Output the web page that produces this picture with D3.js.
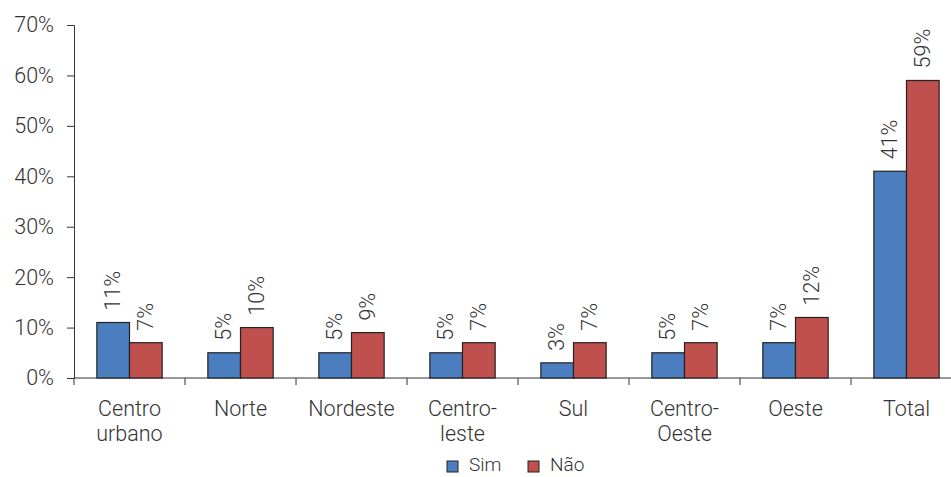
<!DOCTYPE html>
<html>
<head>
<meta charset="utf-8">
<script src="https://cdn.jsdelivr.net/npm/d3@7"></script>
<style>
  html, body { margin: 0; padding: 0; background: #fff; }
  svg { display: block; font-family: Roboto, "Liberation Sans", sans-serif; font-weight: 300; }
</style>
</head>
<body>
<svg id="chart" width="951" height="477"></svg>
<script>
const categories = [["Centro", "urbano"], ["Norte"], ["Nordeste"], ["Centro-", "leste"], ["Sul"], ["Centro-", "Oeste"], ["Oeste"], ["Total"]];
const simValues = [11, 5, 5, 5, 3, 5, 7, 41];
const naoValues = [7, 10, 9, 7, 7, 7, 12, 59];
const yTicks = [0, 10, 20, 30, 40, 50, 60, 70];
const seriesNames = ["Sim", "Não"];
const seriesColors = ["#4a7ebf", "#c0504d"];

const svg = d3.select("#chart");
const W = 951;
const textColor = "#333";
const fontSize = "21.5px";

const x = d3.scaleBand().domain(d3.range(categories.length)).range([74, 962]).paddingInner(0).paddingOuter(0);
const y = d3.scaleLinear().domain([0, 70]).range([378, 25]);
const sub = d3.scaleBand().domain([0, 1]).range([0, x.bandwidth()]).paddingInner(0).paddingOuter(0.7);

// y axis
const yAxis = svg.append("g").attr("transform", "translate(74,0)")
  .call(d3.axisLeft(y).tickValues(yTicks).tickFormat(d => d + "%").tickSize(7).tickPadding(13));
yAxis.select(".domain").attr("stroke", "#333");
yAxis.selectAll(".tick line").attr("stroke", "#333");
yAxis.selectAll(".tick text").attr("fill", textColor).style("font-size", fontSize)
  .style("font-family", "Roboto, 'Liberation Sans', sans-serif").style("font-weight", 300);

// x axis baseline and category separators
svg.append("line").attr("x1", 74).attr("x2", W).attr("y1", 378).attr("y2", 378).attr("stroke", "#333");
svg.selectAll(".sep").data(d3.range(categories.length + 1)).join("line")
  .attr("x1", i => 74 + i * x.bandwidth()).attr("x2", i => 74 + i * x.bandwidth())
  .attr("y1", 378).attr("y2", 385).attr("stroke", "#333");

// bars with rotated value labels
const groups = svg.selectAll(".grp").data(categories.map((c, i) => i)).join("g")
  .attr("transform", i => `translate(${x(i)},0)`);
const seriesData = [simValues, naoValues];
groups.each(function(i) {
  const g = d3.select(this);
  seriesData.forEach((vals, s) => {
    const v = vals[i];
    g.append("rect")
      .attr("x", sub(s)).attr("width", sub.bandwidth())
      .attr("y", y(v)).attr("height", y(0) - y(v))
      .attr("fill", seriesColors[s]).attr("stroke", "#222").attr("stroke-width", 1.2);
    g.append("text")
      .attr("transform", `translate(${sub(s) + sub.bandwidth() / 2 + 7},${y(v) - 12}) rotate(-90)`)
      .attr("text-anchor", "start").attr("fill", textColor).style("font-size", fontSize)
      .text(v + "%");
  });
  // category label
  const t = g.append("text").attr("text-anchor", "middle").attr("fill", textColor).style("font-size", fontSize);
  categories[i].forEach((line, k) => {
    t.append("tspan").attr("x", x.bandwidth() / 2).attr("y", 416 + k * 25).text(line);
  });
});

// legend
const legend = svg.append("g");
const legendX = [447, 528];
seriesNames.forEach((name, s) => {
  legend.append("rect").attr("x", legendX[s]).attr("y", 461).attr("width", 11).attr("height", 11)
    .attr("fill", seriesColors[s]).attr("stroke", "#222").attr("stroke-width", 1);
  legend.append("text").attr("x", legendX[s] + 22).attr("y", 471).attr("fill", textColor)
    .style("font-size", "19px").text(name);
});
</script>
</body>
</html>
